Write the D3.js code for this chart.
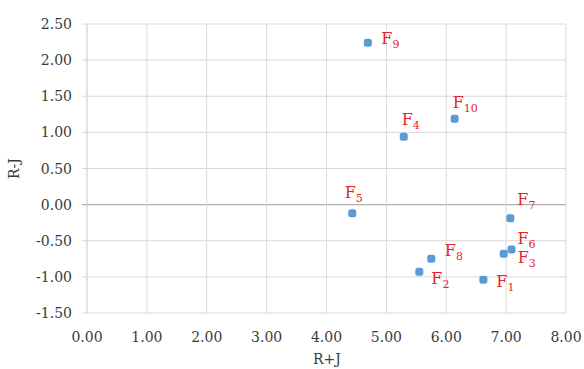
<!DOCTYPE html>
<html>
<head>
<meta charset="utf-8">
<script src="https://cdn.jsdelivr.net/npm/d3@7"></script>
<style>
  body { margin: 0; background: #fff; }
  svg { display: block; }
  .tick-label { font-family: "DejaVu Serif", serif; font-size: 14px; fill: #3a3a3a; }
  .axis-title { font-family: "DejaVu Serif", serif; font-size: 14px; fill: #3a3a3a; }
  .pt-label { font-family: "DejaVu Serif", serif; font-size: 16px; fill: #e8232b; }
</style>
</head>
<body>
<div id="chart"></div>
<script>
// points
const names = ['F1', 'F2', 'F3', 'F4', 'F5', 'F6', 'F7', 'F8', 'F9', 'F10'];
const xValues = [6.62, 5.55, 6.96, 5.29, 4.43, 7.09, 7.07, 5.75, 4.69, 6.14];   // R+J
const yValues = [-1.04, -0.93, -0.68, 0.94, -0.12, -0.62, -0.19, -0.75, 2.24, 1.19]; // R-J
const xTicks = [0, 1, 2, 3, 4, 5, 6, 7, 8];
const yTicks = [-1.5, -1, -0.5, 0, 0.5, 1, 1.5, 2, 2.5];
const xTitle = 'R+J';
const yTitle = 'R-J';

const width = 584, height = 369;
const plot = { left: 87, right: 566, top: 24, bottom: 313 };

// where each data label sits, relative to its marker
const labelOffset = {
    F1: [13, 7], F2: [12, 12], F3: [14, 9], F4: [-2, -12], F5: [-7.5, -15.5],
    F6: [6, -5], F7: [7, -13], F8: [13.5, -2.5], F9: [13.5, 1.5], F10: [-2, -11]
};

const x = d3.scaleLinear().domain([0, 8]).range([plot.left, plot.right]);
const y = d3.scaleLinear().domain([-1.5, 2.5]).range([plot.bottom, plot.top]);

const svg = d3.select('#chart').append('svg')
    .attr('width', width)
    .attr('height', height);

// grid
const grid = svg.append('g');
grid.selectAll('.hgrid')
    .data(yTicks)
    .enter()
    .append('line')
    .attr('x1', plot.left - 5)
    .attr('x2', plot.right)
    .attr('y1', d => y(d))
    .attr('y2', d => y(d))
    .attr('stroke', d => d === 0 ? '#b0b0b0' : '#d9d9d9')
    .attr('stroke-width', d => d === 0 ? 1.3 : 1);

grid.selectAll('.vgrid')
    .data(xTicks)
    .enter()
    .append('line')
    .attr('x1', d => x(d))
    .attr('x2', d => x(d))
    .attr('y1', plot.top)
    .attr('y2', plot.bottom)
    .attr('stroke', d => d === 0 ? '#c8c8c8' : '#d9d9d9')
    .attr('stroke-width', 1);

// tick labels (plain hyphen for negatives, as in the original)
const fmt = d => d.toFixed(2);

svg.selectAll('.ylab')
    .data(yTicks)
    .enter()
    .append('text')
    .attr('class', 'tick-label')
    .attr('x', 72)
    .attr('y', d => y(d) + 5)
    .attr('text-anchor', 'end')
    .text(fmt);

svg.selectAll('.xlab')
    .data(xTicks)
    .enter()
    .append('text')
    .attr('class', 'tick-label')
    .attr('x', d => x(d))
    .attr('y', 342)
    .attr('text-anchor', 'middle')
    .text(fmt);

// axis titles
svg.append('text')
    .attr('class', 'axis-title')
    .attr('x', 327)
    .attr('y', 364)
    .attr('text-anchor', 'middle')
    .text(xTitle);

svg.append('text')
    .attr('class', 'axis-title')
    .attr('transform', `translate(19, ${(plot.top + plot.bottom) / 2}) rotate(-90)`)
    .attr('text-anchor', 'middle')
    .text(yTitle);

// markers
const pts = names.map((n, i) => ({ name: n, x: xValues[i], y: yValues[i] }));

svg.selectAll('.marker')
    .data(pts)
    .enter()
    .append('rect')
    .attr('x', d => x(d.x) - 4)
    .attr('y', d => y(d.y) - 4)
    .attr('width', 8)
    .attr('height', 8)
    .attr('rx', 2.5)
    .attr('fill', '#5b9bd5');

// labels: F with subscript number
const lab = svg.selectAll('.pt-label')
    .data(pts)
    .enter()
    .append('text')
    .attr('class', 'pt-label')
    .attr('x', d => x(d.x) + labelOffset[d.name][0])
    .attr('y', d => y(d.y) + labelOffset[d.name][1]);

lab.append('tspan').text(d => d.name[0]);
lab.append('tspan')
    .attr('font-size', '11px')
    .attr('dy', 4)
    .text(d => d.name.slice(1));
</script>
</body>
</html>
